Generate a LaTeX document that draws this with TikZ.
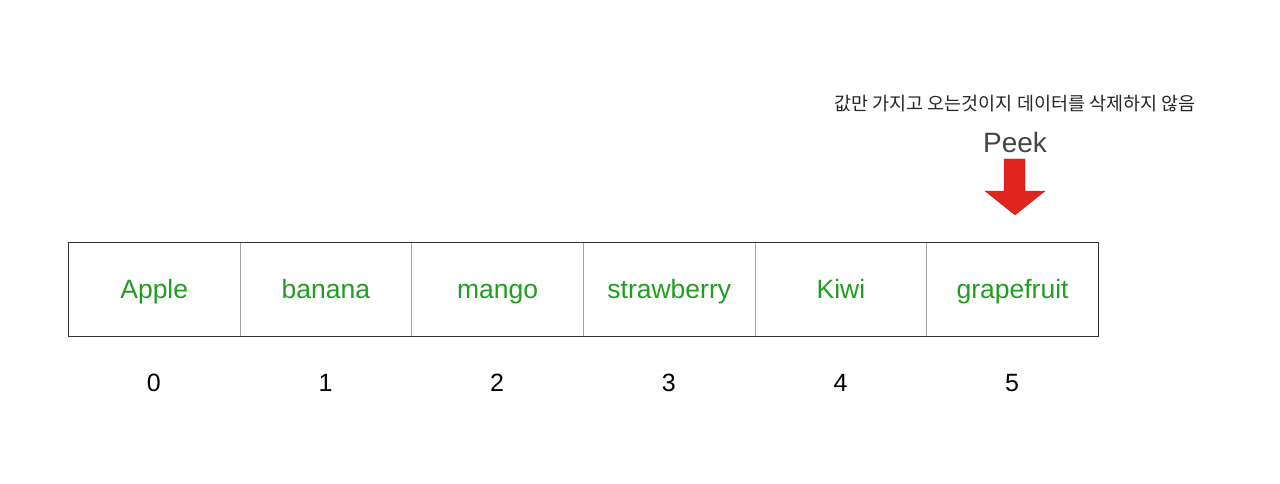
\documentclass[tikz,border=0pt]{standalone}
\usepackage{fontspec}
\setmainfont{Liberation Sans}
\newfontfamily\kofont{Noto Sans CJK KR}
\definecolor{fruitgreen}{HTML}{1F9E1F}
\definecolor{peekred}{HTML}{E1261F}
\definecolor{peekgray}{HTML}{444444}
\begin{document}
\begin{tikzpicture}[x=1pt,y=-1pt,
  cellbox/.style={draw=gray!70, line width=0.8pt, minimum width=171.67pt, minimum height=94pt, inner sep=0pt, anchor=north west, text=fruitgreen, font=\fontsize{26.5}{30}\selectfont, text height=19pt, text depth=0pt},
  idxlabel/.style={font=\fontsize{25}{28}\selectfont, text=black, text height=17.9pt, text depth=0pt, inner sep=0pt},
]
\useasboundingbox (0,0) rectangle (1280,484);
\foreach \name/\txt [count=\i from 0] in {c0/Apple,c1/banana,c2/mango,c3/strawberry,c4/Kiwi,c5/grapefruit}{
  \node[cellbox] (\name) at ({68+\i*171.67},242) {\txt};
  \node[idxlabel] (i\i) at ({68+85.83+\i*171.67},383) {\i};
}
\draw[draw=black!80, line width=0.9pt] (c0.north west) rectangle (c5.south east);
\node[font=\fontsize{28}{30}\selectfont, text=peekgray, text height=20pt, text depth=0pt, inner sep=0pt] (peek) at (1015,142.5) {Peek};
\node[font=\kofont\fontsize{18.5}{22}\selectfont, text=black!85] (note) at (1015,104) {값만 가지고 오는것이지 데이터를 삭제하지 않음};
\coordinate (tip) at (1015,215);
\fill[peekred, draw=peekred!80!black, line width=0.4pt]
  (1004,159) -- (1025,159) -- (1025,191) -- (1045,191) -- (tip) -- (985,191) -- (1004,191) -- cycle;
\end{tikzpicture}
\end{document}
